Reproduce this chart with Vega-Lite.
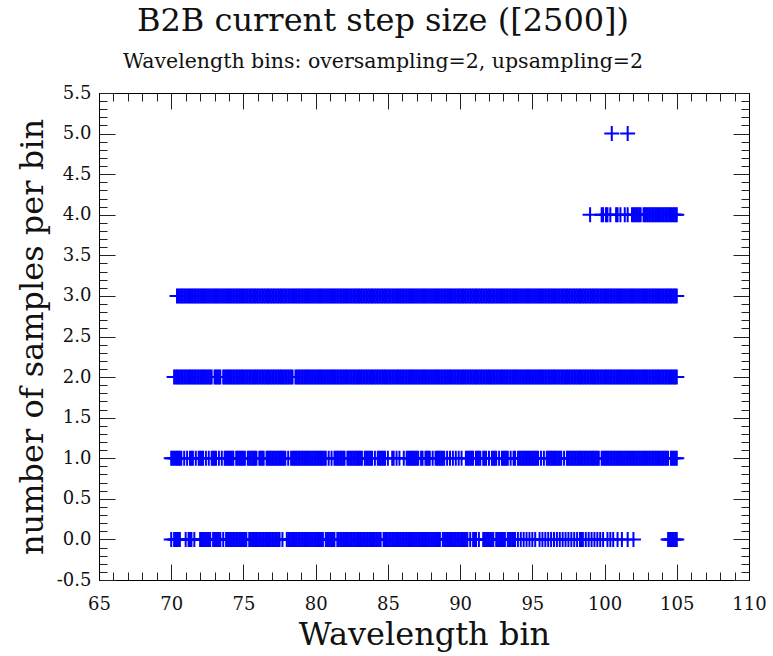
{
"$schema":"https://vega.github.io/schema/vega-lite/v6.json",
"width":650,"height":487,
"autosize":{"type":"none"},
"padding":{"left":99,"top":93,"right":24,"bottom":76},
"background":"white",
"config":{"view":{"stroke":"#000","strokeWidth":1},"font":"DejaVu Serif",
"axis":{"domainColor":"#000","domainWidth":1,"tickColor":"#222","tickWidth":1,"labelColor":"#111","titleColor":"#111","labelFont":"DejaVu Serif","titleFont":"DejaVu Serif","grid":false,"titleFontWeight":"normal"}},
"title":{"text":"B2B current step size ([2500])","subtitle":"Wavelength bins: oversampling=2, upsampling=2","font":"DejaVu Serif","fontSize":32,"fontWeight":"normal","color":"#111","subtitleFont":"DejaVu Serif","subtitleFontSize":20.5,"subtitleColor":"#111","subtitlePadding":14,"anchor":"middle","dx":-41,"offset":11},
"layer":[
{"data":{"values":[
{"bin":70.4,"n":3},{"bin":70.5,"n":3},{"bin":70.6,"n":3},{"bin":70.7,"n":3},{"bin":70.8,"n":3},{"bin":70.9,"n":3},
{"bin":71,"n":3},{"bin":71.1,"n":3},{"bin":71.2,"n":3},{"bin":71.3,"n":3},{"bin":71.4,"n":3},{"bin":71.5,"n":3},{"bin":71.6,"n":3},{"bin":71.7,"n":3},{"bin":71.8,"n":3},{"bin":71.9,"n":3},
{"bin":72,"n":3},{"bin":72.1,"n":3},{"bin":72.2,"n":3},{"bin":72.3,"n":3},{"bin":72.4,"n":3},{"bin":72.5,"n":3},{"bin":72.6,"n":3},{"bin":72.7,"n":3},{"bin":72.8,"n":3},{"bin":72.9,"n":3},
{"bin":73,"n":3},{"bin":73.1,"n":3},{"bin":73.2,"n":3},{"bin":73.3,"n":3},{"bin":73.4,"n":3},{"bin":73.5,"n":3},{"bin":73.6,"n":3},{"bin":73.7,"n":3},{"bin":73.8,"n":3},{"bin":73.9,"n":3},
{"bin":74,"n":3},{"bin":74.1,"n":3},{"bin":74.2,"n":3},{"bin":74.3,"n":3},{"bin":74.4,"n":3},{"bin":74.5,"n":3},{"bin":74.6,"n":3},{"bin":74.7,"n":3},{"bin":74.8,"n":3},{"bin":74.9,"n":3},
{"bin":75,"n":3},{"bin":75.1,"n":3},{"bin":75.2,"n":3},{"bin":75.3,"n":3},{"bin":75.4,"n":3},{"bin":75.5,"n":3},{"bin":75.6,"n":3},{"bin":75.7,"n":3},{"bin":75.8,"n":3},{"bin":75.9,"n":3},
{"bin":76,"n":3},{"bin":76.1,"n":3},{"bin":76.2,"n":3},{"bin":76.3,"n":3},{"bin":76.4,"n":3},{"bin":76.5,"n":3},{"bin":76.6,"n":3},{"bin":76.7,"n":3},{"bin":76.8,"n":3},{"bin":76.9,"n":3},
{"bin":77,"n":3},{"bin":77.1,"n":3},{"bin":77.2,"n":3},{"bin":77.3,"n":3},{"bin":77.4,"n":3},{"bin":77.5,"n":3},{"bin":77.6,"n":3},{"bin":77.7,"n":3},{"bin":77.8,"n":3},{"bin":77.9,"n":3},
{"bin":78,"n":3},{"bin":78.1,"n":3},{"bin":78.2,"n":3},{"bin":78.3,"n":3},{"bin":78.4,"n":3},{"bin":78.5,"n":3},{"bin":78.6,"n":3},{"bin":78.7,"n":3},{"bin":78.8,"n":3},{"bin":78.9,"n":3},
{"bin":79,"n":3},{"bin":79.1,"n":3},{"bin":79.2,"n":3},{"bin":79.3,"n":3},{"bin":79.4,"n":3},{"bin":79.5,"n":3},{"bin":79.6,"n":3},{"bin":79.7,"n":3},{"bin":79.8,"n":3},{"bin":79.9,"n":3},
{"bin":80,"n":3},{"bin":80.1,"n":3},{"bin":80.2,"n":3},{"bin":80.3,"n":3},{"bin":80.4,"n":3},{"bin":80.5,"n":3},{"bin":80.6,"n":3},{"bin":80.7,"n":3},{"bin":80.8,"n":3},{"bin":80.9,"n":3},
{"bin":81,"n":3},{"bin":81.1,"n":3},{"bin":81.2,"n":3},{"bin":81.3,"n":3},{"bin":81.4,"n":3},{"bin":81.5,"n":3},{"bin":81.6,"n":3},{"bin":81.7,"n":3},{"bin":81.8,"n":3},{"bin":81.9,"n":3},
{"bin":82,"n":3},{"bin":82.1,"n":3},{"bin":82.2,"n":3},{"bin":82.3,"n":3},{"bin":82.4,"n":3},{"bin":82.5,"n":3},{"bin":82.6,"n":3},{"bin":82.7,"n":3},{"bin":82.8,"n":3},{"bin":82.9,"n":3},
{"bin":83,"n":3},{"bin":83.1,"n":3},{"bin":83.2,"n":3},{"bin":83.3,"n":3},{"bin":83.4,"n":3},{"bin":83.5,"n":3},{"bin":83.6,"n":3},{"bin":83.7,"n":3},{"bin":83.8,"n":3},{"bin":83.9,"n":3},
{"bin":84,"n":3},{"bin":84.1,"n":3},{"bin":84.2,"n":3},{"bin":84.3,"n":3},{"bin":84.4,"n":3},{"bin":84.5,"n":3},{"bin":84.6,"n":3},{"bin":84.7,"n":3},{"bin":84.8,"n":3},{"bin":84.9,"n":3},
{"bin":85,"n":3},{"bin":85.1,"n":3},{"bin":85.2,"n":3},{"bin":85.3,"n":3},{"bin":85.4,"n":3},{"bin":85.5,"n":3},{"bin":85.6,"n":3},{"bin":85.7,"n":3},{"bin":85.8,"n":3},{"bin":85.9,"n":3},
{"bin":86,"n":3},{"bin":86.1,"n":3},{"bin":86.2,"n":3},{"bin":86.3,"n":3},{"bin":86.4,"n":3},{"bin":86.5,"n":3},{"bin":86.6,"n":3},{"bin":86.7,"n":3},{"bin":86.8,"n":3},{"bin":86.9,"n":3},
{"bin":87,"n":3},{"bin":87.1,"n":3},{"bin":87.2,"n":3},{"bin":87.3,"n":3},{"bin":87.4,"n":3},{"bin":87.5,"n":3},{"bin":87.6,"n":3},{"bin":87.7,"n":3},{"bin":87.8,"n":3},{"bin":87.9,"n":3},
{"bin":88,"n":3},{"bin":88.1,"n":3},{"bin":88.2,"n":3},{"bin":88.3,"n":3},{"bin":88.4,"n":3},{"bin":88.5,"n":3},{"bin":88.6,"n":3},{"bin":88.7,"n":3},{"bin":88.8,"n":3},{"bin":88.9,"n":3},
{"bin":89,"n":3},{"bin":89.1,"n":3},{"bin":89.2,"n":3},{"bin":89.3,"n":3},{"bin":89.4,"n":3},{"bin":89.5,"n":3},{"bin":89.6,"n":3},{"bin":89.7,"n":3},{"bin":89.8,"n":3},{"bin":89.9,"n":3},
{"bin":90,"n":3},{"bin":90.1,"n":3},{"bin":90.2,"n":3},{"bin":90.3,"n":3},{"bin":90.4,"n":3},{"bin":90.5,"n":3},{"bin":90.6,"n":3},{"bin":90.7,"n":3},{"bin":90.8,"n":3},{"bin":90.9,"n":3},
{"bin":91,"n":3},{"bin":91.1,"n":3},{"bin":91.2,"n":3},{"bin":91.3,"n":3},{"bin":91.4,"n":3},{"bin":91.5,"n":3},{"bin":91.6,"n":3},{"bin":91.7,"n":3},{"bin":91.8,"n":3},{"bin":91.9,"n":3},
{"bin":92,"n":3},{"bin":92.1,"n":3},{"bin":92.2,"n":3},{"bin":92.3,"n":3},{"bin":92.4,"n":3},{"bin":92.5,"n":3},{"bin":92.6,"n":3},{"bin":92.7,"n":3},{"bin":92.8,"n":3},{"bin":92.9,"n":3},
{"bin":93,"n":3},{"bin":93.1,"n":3},{"bin":93.2,"n":3},{"bin":93.3,"n":3},{"bin":93.4,"n":3},{"bin":93.5,"n":3},{"bin":93.6,"n":3},{"bin":93.7,"n":3},{"bin":93.8,"n":3},{"bin":93.9,"n":3},
{"bin":94,"n":3},{"bin":94.1,"n":3},{"bin":94.2,"n":3},{"bin":94.3,"n":3},{"bin":94.4,"n":3},{"bin":94.5,"n":3},{"bin":94.6,"n":3},{"bin":94.7,"n":3},{"bin":94.8,"n":3},{"bin":94.9,"n":3},
{"bin":95,"n":3},{"bin":95.1,"n":3},{"bin":95.2,"n":3},{"bin":95.3,"n":3},{"bin":95.4,"n":3},{"bin":95.5,"n":3},{"bin":95.6,"n":3},{"bin":95.7,"n":3},{"bin":95.8,"n":3},{"bin":95.9,"n":3},
{"bin":96,"n":3},{"bin":96.1,"n":3},{"bin":96.2,"n":3},{"bin":96.3,"n":3},{"bin":96.4,"n":3},{"bin":96.5,"n":3},{"bin":96.6,"n":3},{"bin":96.7,"n":3},{"bin":96.8,"n":3},{"bin":96.9,"n":3},
{"bin":97,"n":3},{"bin":97.1,"n":3},{"bin":97.2,"n":3},{"bin":97.3,"n":3},{"bin":97.4,"n":3},{"bin":97.5,"n":3},{"bin":97.6,"n":3},{"bin":97.7,"n":3},{"bin":97.8,"n":3},{"bin":97.9,"n":3},
{"bin":98,"n":3},{"bin":98.1,"n":3},{"bin":98.2,"n":3},{"bin":98.3,"n":3},{"bin":98.4,"n":3},{"bin":98.5,"n":3},{"bin":98.6,"n":3},{"bin":98.7,"n":3},{"bin":98.8,"n":3},{"bin":98.9,"n":3},
{"bin":99,"n":3},{"bin":99.1,"n":3},{"bin":99.2,"n":3},{"bin":99.3,"n":3},{"bin":99.4,"n":3},{"bin":99.5,"n":3},{"bin":99.6,"n":3},{"bin":99.7,"n":3},{"bin":99.8,"n":3},{"bin":99.9,"n":3},
{"bin":100,"n":3},{"bin":100.1,"n":3},{"bin":100.2,"n":3},{"bin":100.3,"n":3},{"bin":100.4,"n":3},{"bin":100.5,"n":3},{"bin":100.6,"n":3},{"bin":100.7,"n":3},{"bin":100.8,"n":3},{"bin":100.9,"n":3},
{"bin":101,"n":3},{"bin":101.1,"n":3},{"bin":101.2,"n":3},{"bin":101.3,"n":3},{"bin":101.4,"n":3},{"bin":101.5,"n":3},{"bin":101.6,"n":3},{"bin":101.7,"n":3},{"bin":101.8,"n":3},{"bin":101.9,"n":3},
{"bin":102,"n":3},{"bin":102.1,"n":3},{"bin":102.2,"n":3},{"bin":102.3,"n":3},{"bin":102.4,"n":3},{"bin":102.5,"n":3},{"bin":102.6,"n":3},{"bin":102.7,"n":3},{"bin":102.8,"n":3},{"bin":102.9,"n":3},
{"bin":103,"n":3},{"bin":103.1,"n":3},{"bin":103.2,"n":3},{"bin":103.3,"n":3},{"bin":103.4,"n":3},{"bin":103.5,"n":3},{"bin":103.6,"n":3},{"bin":103.7,"n":3},{"bin":103.8,"n":3},{"bin":103.9,"n":3},
{"bin":104,"n":3},{"bin":104.1,"n":3},{"bin":104.2,"n":3},{"bin":104.3,"n":3},{"bin":104.4,"n":3},{"bin":104.5,"n":3},{"bin":104.6,"n":3},{"bin":104.7,"n":3},{"bin":104.8,"n":3},{"bin":104.9,"n":3},
{"bin":105,"n":3},
{"bin":70.2,"n":2},{"bin":70.3,"n":2},{"bin":70.4,"n":2},{"bin":70.5,"n":2},{"bin":70.6,"n":2},{"bin":70.7,"n":2},{"bin":70.8,"n":2},{"bin":70.9,"n":2},
{"bin":71,"n":2},{"bin":71.1,"n":2},{"bin":71.2,"n":2},{"bin":71.3,"n":2},{"bin":71.4,"n":2},{"bin":71.5,"n":2},{"bin":71.6,"n":2},{"bin":71.7,"n":2},{"bin":71.8,"n":2},{"bin":71.9,"n":2},
{"bin":72,"n":2},{"bin":72.1,"n":2},{"bin":72.2,"n":2},{"bin":72.3,"n":2},{"bin":72.4,"n":2},{"bin":72.5,"n":2},{"bin":72.6,"n":2},{"bin":72.7,"n":2},{"bin":72.8,"n":2},
{"bin":73,"n":2},{"bin":73.1,"n":2},{"bin":73.2,"n":2},{"bin":73.3,"n":2},{"bin":73.4,"n":2},{"bin":73.6,"n":2},{"bin":73.7,"n":2},{"bin":73.8,"n":2},{"bin":73.9,"n":2},
{"bin":74,"n":2},{"bin":74.1,"n":2},{"bin":74.2,"n":2},{"bin":74.3,"n":2},{"bin":74.4,"n":2},{"bin":74.5,"n":2},{"bin":74.6,"n":2},{"bin":74.7,"n":2},{"bin":74.8,"n":2},{"bin":74.9,"n":2},
{"bin":75,"n":2},{"bin":75.1,"n":2},{"bin":75.2,"n":2},{"bin":75.3,"n":2},{"bin":75.4,"n":2},{"bin":75.5,"n":2},{"bin":75.6,"n":2},{"bin":75.7,"n":2},{"bin":75.8,"n":2},{"bin":75.9,"n":2},
{"bin":76,"n":2},{"bin":76.1,"n":2},{"bin":76.2,"n":2},{"bin":76.3,"n":2},{"bin":76.4,"n":2},{"bin":76.5,"n":2},{"bin":76.6,"n":2},{"bin":76.7,"n":2},{"bin":76.8,"n":2},{"bin":76.9,"n":2},
{"bin":77,"n":2},{"bin":77.1,"n":2},{"bin":77.2,"n":2},{"bin":77.3,"n":2},{"bin":77.4,"n":2},{"bin":77.5,"n":2},{"bin":77.6,"n":2},{"bin":77.7,"n":2},{"bin":77.8,"n":2},{"bin":77.9,"n":2},
{"bin":78,"n":2},{"bin":78.1,"n":2},{"bin":78.2,"n":2},{"bin":78.3,"n":2},{"bin":78.4,"n":2},{"bin":78.6,"n":2},{"bin":78.7,"n":2},{"bin":78.8,"n":2},{"bin":78.9,"n":2},
{"bin":79,"n":2},{"bin":79.1,"n":2},{"bin":79.2,"n":2},{"bin":79.3,"n":2},{"bin":79.4,"n":2},{"bin":79.5,"n":2},{"bin":79.6,"n":2},{"bin":79.7,"n":2},{"bin":79.8,"n":2},{"bin":79.9,"n":2},
{"bin":80,"n":2},{"bin":80.1,"n":2},{"bin":80.2,"n":2},{"bin":80.3,"n":2},{"bin":80.4,"n":2},{"bin":80.5,"n":2},{"bin":80.6,"n":2},{"bin":80.7,"n":2},{"bin":80.8,"n":2},{"bin":80.9,"n":2},
{"bin":81,"n":2},{"bin":81.1,"n":2},{"bin":81.2,"n":2},{"bin":81.3,"n":2},{"bin":81.4,"n":2},{"bin":81.5,"n":2},{"bin":81.6,"n":2},{"bin":81.7,"n":2},{"bin":81.8,"n":2},{"bin":81.9,"n":2},
{"bin":82,"n":2},{"bin":82.1,"n":2},{"bin":82.2,"n":2},{"bin":82.3,"n":2},{"bin":82.4,"n":2},{"bin":82.5,"n":2},{"bin":82.6,"n":2},{"bin":82.7,"n":2},{"bin":82.8,"n":2},{"bin":82.9,"n":2},
{"bin":83,"n":2},{"bin":83.1,"n":2},{"bin":83.2,"n":2},{"bin":83.3,"n":2},{"bin":83.4,"n":2},{"bin":83.5,"n":2},{"bin":83.6,"n":2},{"bin":83.7,"n":2},{"bin":83.8,"n":2},{"bin":83.9,"n":2},
{"bin":84,"n":2},{"bin":84.1,"n":2},{"bin":84.2,"n":2},{"bin":84.3,"n":2},{"bin":84.4,"n":2},{"bin":84.5,"n":2},{"bin":84.6,"n":2},{"bin":84.7,"n":2},{"bin":84.8,"n":2},{"bin":84.9,"n":2},
{"bin":85,"n":2},{"bin":85.1,"n":2},{"bin":85.2,"n":2},{"bin":85.3,"n":2},{"bin":85.4,"n":2},{"bin":85.5,"n":2},{"bin":85.6,"n":2},{"bin":85.7,"n":2},{"bin":85.8,"n":2},{"bin":85.9,"n":2},
{"bin":86,"n":2},{"bin":86.1,"n":2},{"bin":86.2,"n":2},{"bin":86.3,"n":2},{"bin":86.4,"n":2},{"bin":86.5,"n":2},{"bin":86.6,"n":2},{"bin":86.7,"n":2},{"bin":86.8,"n":2},{"bin":86.9,"n":2},
{"bin":87,"n":2},{"bin":87.1,"n":2},{"bin":87.2,"n":2},{"bin":87.3,"n":2},{"bin":87.4,"n":2},{"bin":87.5,"n":2},{"bin":87.6,"n":2},{"bin":87.7,"n":2},{"bin":87.8,"n":2},{"bin":87.9,"n":2},
{"bin":88,"n":2},{"bin":88.1,"n":2},{"bin":88.2,"n":2},{"bin":88.3,"n":2},{"bin":88.4,"n":2},{"bin":88.5,"n":2},{"bin":88.6,"n":2},{"bin":88.7,"n":2},{"bin":88.8,"n":2},{"bin":88.9,"n":2},
{"bin":89,"n":2},{"bin":89.1,"n":2},{"bin":89.2,"n":2},{"bin":89.3,"n":2},{"bin":89.4,"n":2},{"bin":89.5,"n":2},{"bin":89.6,"n":2},{"bin":89.7,"n":2},{"bin":89.8,"n":2},{"bin":89.9,"n":2},
{"bin":90,"n":2},{"bin":90.1,"n":2},{"bin":90.2,"n":2},{"bin":90.3,"n":2},{"bin":90.4,"n":2},{"bin":90.5,"n":2},{"bin":90.6,"n":2},{"bin":90.7,"n":2},{"bin":90.8,"n":2},{"bin":90.9,"n":2},
{"bin":91,"n":2},{"bin":91.1,"n":2},{"bin":91.2,"n":2},{"bin":91.3,"n":2},{"bin":91.4,"n":2},{"bin":91.5,"n":2},{"bin":91.6,"n":2},{"bin":91.7,"n":2},{"bin":91.8,"n":2},{"bin":91.9,"n":2},
{"bin":92,"n":2},{"bin":92.1,"n":2},{"bin":92.2,"n":2},{"bin":92.3,"n":2},{"bin":92.4,"n":2},{"bin":92.5,"n":2},{"bin":92.6,"n":2},{"bin":92.7,"n":2},{"bin":92.8,"n":2},{"bin":92.9,"n":2},
{"bin":93,"n":2},{"bin":93.1,"n":2},{"bin":93.2,"n":2},{"bin":93.3,"n":2},{"bin":93.4,"n":2},{"bin":93.5,"n":2},{"bin":93.6,"n":2},{"bin":93.7,"n":2},{"bin":93.8,"n":2},{"bin":93.9,"n":2},
{"bin":94,"n":2},{"bin":94.1,"n":2},{"bin":94.2,"n":2},{"bin":94.3,"n":2},{"bin":94.4,"n":2},{"bin":94.5,"n":2},{"bin":94.6,"n":2},{"bin":94.7,"n":2},{"bin":94.8,"n":2},{"bin":94.9,"n":2},
{"bin":95,"n":2},{"bin":95.1,"n":2},{"bin":95.2,"n":2},{"bin":95.3,"n":2},{"bin":95.4,"n":2},{"bin":95.5,"n":2},{"bin":95.6,"n":2},{"bin":95.7,"n":2},{"bin":95.8,"n":2},{"bin":95.9,"n":2},
{"bin":96,"n":2},{"bin":96.1,"n":2},{"bin":96.2,"n":2},{"bin":96.3,"n":2},{"bin":96.4,"n":2},{"bin":96.5,"n":2},{"bin":96.6,"n":2},{"bin":96.7,"n":2},{"bin":96.8,"n":2},{"bin":96.9,"n":2},
{"bin":97,"n":2},{"bin":97.1,"n":2},{"bin":97.2,"n":2},{"bin":97.3,"n":2},{"bin":97.4,"n":2},{"bin":97.5,"n":2},{"bin":97.6,"n":2},{"bin":97.7,"n":2},{"bin":97.8,"n":2},{"bin":97.9,"n":2},
{"bin":98,"n":2},{"bin":98.1,"n":2},{"bin":98.2,"n":2},{"bin":98.3,"n":2},{"bin":98.4,"n":2},{"bin":98.5,"n":2},{"bin":98.6,"n":2},{"bin":98.7,"n":2},{"bin":98.8,"n":2},{"bin":98.9,"n":2},
{"bin":99,"n":2},{"bin":99.1,"n":2},{"bin":99.2,"n":2},{"bin":99.3,"n":2},{"bin":99.4,"n":2},{"bin":99.5,"n":2},{"bin":99.6,"n":2},{"bin":99.7,"n":2},{"bin":99.8,"n":2},{"bin":99.9,"n":2},
{"bin":100,"n":2},{"bin":100.1,"n":2},{"bin":100.2,"n":2},{"bin":100.3,"n":2},{"bin":100.4,"n":2},{"bin":100.5,"n":2},{"bin":100.6,"n":2},{"bin":100.7,"n":2},{"bin":100.8,"n":2},{"bin":100.9,"n":2},
{"bin":101,"n":2},{"bin":101.1,"n":2},{"bin":101.2,"n":2},{"bin":101.3,"n":2},{"bin":101.4,"n":2},{"bin":101.5,"n":2},{"bin":101.6,"n":2},{"bin":101.7,"n":2},{"bin":101.8,"n":2},{"bin":101.9,"n":2},
{"bin":102,"n":2},{"bin":102.1,"n":2},{"bin":102.2,"n":2},{"bin":102.3,"n":2},{"bin":102.4,"n":2},{"bin":102.5,"n":2},{"bin":102.6,"n":2},{"bin":102.7,"n":2},{"bin":102.8,"n":2},{"bin":102.9,"n":2},
{"bin":103,"n":2},{"bin":103.1,"n":2},{"bin":103.2,"n":2},{"bin":103.3,"n":2},{"bin":103.4,"n":2},{"bin":103.5,"n":2},{"bin":103.6,"n":2},{"bin":103.7,"n":2},{"bin":103.8,"n":2},{"bin":103.9,"n":2},
{"bin":104,"n":2},{"bin":104.1,"n":2},{"bin":104.2,"n":2},{"bin":104.3,"n":2},{"bin":104.4,"n":2},{"bin":104.5,"n":2},{"bin":104.6,"n":2},{"bin":104.7,"n":2},{"bin":104.8,"n":2},{"bin":104.9,"n":2},
{"bin":105,"n":2},
{"bin":70,"n":1},{"bin":70.1,"n":1},{"bin":70.2,"n":1},{"bin":70.3,"n":1},{"bin":70.4,"n":1},{"bin":70.5,"n":1},{"bin":70.6,"n":1},{"bin":70.7,"n":1},{"bin":70.9,"n":1},
{"bin":71.1,"n":1},{"bin":71.3,"n":1},{"bin":71.4,"n":1},{"bin":71.5,"n":1},{"bin":71.7,"n":1},{"bin":71.9,"n":1},
{"bin":72,"n":1},{"bin":72.1,"n":1},{"bin":72.2,"n":1},{"bin":72.4,"n":1},{"bin":72.6,"n":1},{"bin":72.8,"n":1},{"bin":72.9,"n":1},
{"bin":73,"n":1},{"bin":73.1,"n":1},{"bin":73.3,"n":1},{"bin":73.5,"n":1},{"bin":73.7,"n":1},{"bin":73.8,"n":1},{"bin":73.9,"n":1},
{"bin":74,"n":1},{"bin":74.1,"n":1},{"bin":74.2,"n":1},{"bin":74.3,"n":1},{"bin":74.5,"n":1},{"bin":74.6,"n":1},{"bin":74.7,"n":1},{"bin":74.8,"n":1},{"bin":74.9,"n":1},
{"bin":75,"n":1},{"bin":75.1,"n":1},{"bin":75.3,"n":1},{"bin":75.4,"n":1},{"bin":75.5,"n":1},{"bin":75.6,"n":1},{"bin":75.7,"n":1},{"bin":75.8,"n":1},{"bin":75.9,"n":1},
{"bin":76.1,"n":1},{"bin":76.2,"n":1},{"bin":76.3,"n":1},{"bin":76.4,"n":1},{"bin":76.6,"n":1},{"bin":76.7,"n":1},{"bin":76.8,"n":1},{"bin":76.9,"n":1},
{"bin":77,"n":1},{"bin":77.1,"n":1},{"bin":77.2,"n":1},{"bin":77.3,"n":1},{"bin":77.4,"n":1},{"bin":77.5,"n":1},{"bin":77.6,"n":1},{"bin":77.7,"n":1},{"bin":77.8,"n":1},{"bin":77.9,"n":1},
{"bin":78.1,"n":1},{"bin":78.3,"n":1},{"bin":78.4,"n":1},{"bin":78.5,"n":1},{"bin":78.6,"n":1},{"bin":78.7,"n":1},{"bin":78.8,"n":1},{"bin":78.9,"n":1},
{"bin":79,"n":1},{"bin":79.1,"n":1},{"bin":79.2,"n":1},{"bin":79.3,"n":1},{"bin":79.4,"n":1},{"bin":79.5,"n":1},{"bin":79.6,"n":1},{"bin":79.7,"n":1},{"bin":79.8,"n":1},{"bin":79.9,"n":1},
{"bin":80,"n":1},{"bin":80.1,"n":1},{"bin":80.2,"n":1},{"bin":80.3,"n":1},{"bin":80.4,"n":1},{"bin":80.5,"n":1},{"bin":80.6,"n":1},{"bin":80.7,"n":1},{"bin":80.9,"n":1},
{"bin":81.1,"n":1},{"bin":81.3,"n":1},{"bin":81.4,"n":1},{"bin":81.5,"n":1},{"bin":81.6,"n":1},{"bin":81.7,"n":1},{"bin":81.8,"n":1},{"bin":81.9,"n":1},{"bin":82,"n":1},
{"bin":82.2,"n":1},{"bin":82.3,"n":1},{"bin":82.4,"n":1},{"bin":82.5,"n":1},{"bin":82.6,"n":1},{"bin":82.7,"n":1},{"bin":82.8,"n":1},{"bin":82.9,"n":1},
{"bin":83,"n":1},{"bin":83.1,"n":1},{"bin":83.2,"n":1},{"bin":83.4,"n":1},{"bin":83.5,"n":1},{"bin":83.6,"n":1},{"bin":83.7,"n":1},{"bin":83.8,"n":1},{"bin":83.9,"n":1},
{"bin":84.1,"n":1},{"bin":84.3,"n":1},{"bin":84.4,"n":1},{"bin":84.5,"n":1},{"bin":84.6,"n":1},{"bin":84.7,"n":1},{"bin":84.8,"n":1},
{"bin":85,"n":1},{"bin":85.3,"n":1},{"bin":85.4,"n":1},{"bin":85.6,"n":1},{"bin":85.8,"n":1},
{"bin":86.1,"n":1},{"bin":86.3,"n":1},{"bin":86.4,"n":1},{"bin":86.5,"n":1},{"bin":86.6,"n":1},{"bin":86.7,"n":1},{"bin":86.8,"n":1},{"bin":86.9,"n":1},{"bin":87,"n":1},{"bin":87.1,"n":1},
{"bin":87.3,"n":1},{"bin":87.4,"n":1},{"bin":87.6,"n":1},{"bin":87.7,"n":1},{"bin":87.8,"n":1},{"bin":87.9,"n":1},
{"bin":88.1,"n":1},{"bin":88.3,"n":1},{"bin":88.4,"n":1},{"bin":88.5,"n":1},{"bin":88.6,"n":1},{"bin":88.7,"n":1},{"bin":88.8,"n":1},{"bin":88.9,"n":1},
{"bin":89.1,"n":1},{"bin":89.3,"n":1},{"bin":89.5,"n":1},{"bin":89.7,"n":1},{"bin":89.9,"n":1},{"bin":90.1,"n":1},
{"bin":90.4,"n":1},{"bin":90.5,"n":1},{"bin":90.6,"n":1},{"bin":90.7,"n":1},{"bin":90.8,"n":1},{"bin":90.9,"n":1},
{"bin":91.1,"n":1},{"bin":91.2,"n":1},{"bin":91.3,"n":1},{"bin":91.4,"n":1},{"bin":91.6,"n":1},{"bin":91.7,"n":1},{"bin":91.8,"n":1},
{"bin":92,"n":1},{"bin":92.2,"n":1},{"bin":92.3,"n":1},{"bin":92.4,"n":1},{"bin":92.5,"n":1},{"bin":92.7,"n":1},
{"bin":92.9,"n":1},{"bin":93,"n":1},{"bin":93.1,"n":1},{"bin":93.2,"n":1},{"bin":93.3,"n":1},{"bin":93.5,"n":1},{"bin":93.7,"n":1},{"bin":93.8,"n":1},
{"bin":94,"n":1},{"bin":94.1,"n":1},{"bin":94.2,"n":1},{"bin":94.3,"n":1},{"bin":94.4,"n":1},{"bin":94.5,"n":1},{"bin":94.6,"n":1},{"bin":94.7,"n":1},{"bin":94.8,"n":1},{"bin":94.9,"n":1},
{"bin":95,"n":1},{"bin":95.1,"n":1},{"bin":95.2,"n":1},{"bin":95.3,"n":1},{"bin":95.4,"n":1},{"bin":95.6,"n":1},{"bin":95.8,"n":1},
{"bin":96,"n":1},{"bin":96.1,"n":1},{"bin":96.2,"n":1},{"bin":96.3,"n":1},{"bin":96.4,"n":1},{"bin":96.5,"n":1},{"bin":96.6,"n":1},{"bin":96.7,"n":1},{"bin":96.8,"n":1},{"bin":96.9,"n":1},{"bin":97,"n":1},
{"bin":97.2,"n":1},{"bin":97.4,"n":1},{"bin":97.5,"n":1},{"bin":97.6,"n":1},{"bin":97.7,"n":1},{"bin":97.8,"n":1},{"bin":97.9,"n":1},
{"bin":98,"n":1},{"bin":98.1,"n":1},{"bin":98.2,"n":1},{"bin":98.3,"n":1},{"bin":98.4,"n":1},{"bin":98.5,"n":1},{"bin":98.6,"n":1},{"bin":98.7,"n":1},{"bin":98.8,"n":1},{"bin":98.9,"n":1},
{"bin":99,"n":1},{"bin":99.1,"n":1},{"bin":99.2,"n":1},{"bin":99.3,"n":1},{"bin":99.4,"n":1},{"bin":99.5,"n":1},{"bin":99.6,"n":1},{"bin":99.8,"n":1},{"bin":99.9,"n":1},
{"bin":100,"n":1},{"bin":100.1,"n":1},{"bin":100.2,"n":1},{"bin":100.3,"n":1},{"bin":100.4,"n":1},{"bin":100.5,"n":1},{"bin":100.6,"n":1},{"bin":100.7,"n":1},{"bin":100.8,"n":1},{"bin":100.9,"n":1},
{"bin":101,"n":1},{"bin":101.1,"n":1},{"bin":101.2,"n":1},{"bin":101.3,"n":1},{"bin":101.4,"n":1},{"bin":101.5,"n":1},{"bin":101.6,"n":1},{"bin":101.7,"n":1},{"bin":101.8,"n":1},{"bin":101.9,"n":1},
{"bin":102,"n":1},{"bin":102.1,"n":1},{"bin":102.2,"n":1},{"bin":102.3,"n":1},{"bin":102.4,"n":1},{"bin":102.5,"n":1},{"bin":102.6,"n":1},{"bin":102.7,"n":1},{"bin":102.8,"n":1},{"bin":102.9,"n":1},
{"bin":103,"n":1},{"bin":103.1,"n":1},{"bin":103.2,"n":1},{"bin":103.3,"n":1},{"bin":103.4,"n":1},{"bin":103.5,"n":1},{"bin":103.6,"n":1},{"bin":103.7,"n":1},{"bin":103.8,"n":1},{"bin":103.9,"n":1},
{"bin":104,"n":1},{"bin":104.1,"n":1},{"bin":104.2,"n":1},{"bin":104.3,"n":1},{"bin":104.4,"n":1},{"bin":104.6,"n":1},{"bin":104.7,"n":1},{"bin":104.8,"n":1},{"bin":104.9,"n":1},{"bin":105,"n":1},
{"bin":70,"n":0},{"bin":70.2,"n":0},{"bin":70.3,"n":0},{"bin":70.4,"n":0},{"bin":70.5,"n":0},{"bin":70.6,"n":0},
{"bin":71,"n":0},{"bin":71.2,"n":0},{"bin":71.3,"n":0},{"bin":71.4,"n":0},{"bin":71.6,"n":0},
{"bin":72,"n":0},{"bin":72.1,"n":0},{"bin":72.2,"n":0},{"bin":72.3,"n":0},{"bin":72.4,"n":0},{"bin":72.5,"n":0},{"bin":72.6,"n":0},{"bin":72.7,"n":0},
{"bin":72.9,"n":0},{"bin":73,"n":0},{"bin":73.1,"n":0},{"bin":73.2,"n":0},{"bin":73.3,"n":0},{"bin":73.4,"n":0},{"bin":73.6,"n":0},
{"bin":73.8,"n":0},{"bin":73.9,"n":0},{"bin":74,"n":0},{"bin":74.1,"n":0},{"bin":74.2,"n":0},{"bin":74.3,"n":0},{"bin":74.4,"n":0},{"bin":74.5,"n":0},{"bin":74.6,"n":0},{"bin":74.7,"n":0},{"bin":74.8,"n":0},{"bin":74.9,"n":0},{"bin":75,"n":0},{"bin":75.1,"n":0},{"bin":75.2,"n":0},
{"bin":75.4,"n":0},{"bin":75.5,"n":0},{"bin":75.6,"n":0},{"bin":75.7,"n":0},{"bin":75.8,"n":0},{"bin":75.9,"n":0},
{"bin":76,"n":0},{"bin":76.1,"n":0},{"bin":76.2,"n":0},{"bin":76.3,"n":0},{"bin":76.4,"n":0},{"bin":76.5,"n":0},{"bin":76.6,"n":0},{"bin":76.7,"n":0},{"bin":76.8,"n":0},{"bin":76.9,"n":0},
{"bin":77,"n":0},{"bin":77.1,"n":0},{"bin":77.2,"n":0},{"bin":77.3,"n":0},{"bin":77.4,"n":0},{"bin":77.5,"n":0},{"bin":77.7,"n":0},
{"bin":78,"n":0},{"bin":78.1,"n":0},{"bin":78.2,"n":0},{"bin":78.3,"n":0},{"bin":78.4,"n":0},{"bin":78.5,"n":0},{"bin":78.6,"n":0},{"bin":78.7,"n":0},{"bin":78.8,"n":0},{"bin":78.9,"n":0},
{"bin":79,"n":0},{"bin":79.1,"n":0},{"bin":79.2,"n":0},{"bin":79.3,"n":0},{"bin":79.4,"n":0},{"bin":79.5,"n":0},{"bin":79.6,"n":0},{"bin":79.7,"n":0},{"bin":79.8,"n":0},{"bin":79.9,"n":0},
{"bin":80,"n":0},{"bin":80.1,"n":0},{"bin":80.2,"n":0},{"bin":80.3,"n":0},{"bin":80.4,"n":0},{"bin":80.5,"n":0},
{"bin":80.7,"n":0},{"bin":80.8,"n":0},{"bin":80.9,"n":0},{"bin":81,"n":0},{"bin":81.1,"n":0},{"bin":81.2,"n":0},{"bin":81.3,"n":0},
{"bin":81.5,"n":0},{"bin":81.6,"n":0},{"bin":81.7,"n":0},{"bin":81.8,"n":0},{"bin":81.9,"n":0},
{"bin":82,"n":0},{"bin":82.1,"n":0},{"bin":82.2,"n":0},{"bin":82.3,"n":0},{"bin":82.4,"n":0},{"bin":82.5,"n":0},{"bin":82.6,"n":0},{"bin":82.7,"n":0},{"bin":82.8,"n":0},{"bin":82.9,"n":0},
{"bin":83,"n":0},{"bin":83.1,"n":0},{"bin":83.2,"n":0},{"bin":83.3,"n":0},{"bin":83.4,"n":0},{"bin":83.5,"n":0},{"bin":83.6,"n":0},{"bin":83.7,"n":0},{"bin":83.8,"n":0},{"bin":83.9,"n":0},
{"bin":84,"n":0},{"bin":84.1,"n":0},{"bin":84.2,"n":0},{"bin":84.3,"n":0},{"bin":84.4,"n":0},{"bin":84.5,"n":0},
{"bin":84.7,"n":0},{"bin":84.8,"n":0},{"bin":84.9,"n":0},
{"bin":85,"n":0},{"bin":85.1,"n":0},{"bin":85.2,"n":0},{"bin":85.3,"n":0},{"bin":85.4,"n":0},{"bin":85.5,"n":0},{"bin":85.6,"n":0},{"bin":85.7,"n":0},{"bin":85.8,"n":0},{"bin":85.9,"n":0},
{"bin":86,"n":0},{"bin":86.1,"n":0},{"bin":86.2,"n":0},{"bin":86.3,"n":0},{"bin":86.4,"n":0},{"bin":86.5,"n":0},{"bin":86.6,"n":0},{"bin":86.7,"n":0},{"bin":86.8,"n":0},{"bin":86.9,"n":0},
{"bin":87,"n":0},{"bin":87.1,"n":0},{"bin":87.2,"n":0},{"bin":87.3,"n":0},{"bin":87.4,"n":0},{"bin":87.5,"n":0},{"bin":87.6,"n":0},{"bin":87.7,"n":0},{"bin":87.8,"n":0},{"bin":87.9,"n":0},
{"bin":88,"n":0},{"bin":88.1,"n":0},{"bin":88.2,"n":0},{"bin":88.3,"n":0},{"bin":88.4,"n":0},{"bin":88.5,"n":0},{"bin":88.6,"n":0},
{"bin":88.8,"n":0},{"bin":88.9,"n":0},
{"bin":89,"n":0},{"bin":89.1,"n":0},{"bin":89.2,"n":0},{"bin":89.3,"n":0},{"bin":89.4,"n":0},{"bin":89.5,"n":0},{"bin":89.6,"n":0},{"bin":89.7,"n":0},{"bin":89.8,"n":0},{"bin":89.9,"n":0},
{"bin":90,"n":0},{"bin":90.1,"n":0},{"bin":90.2,"n":0},{"bin":90.3,"n":0},{"bin":90.4,"n":0},{"bin":90.5,"n":0},
{"bin":90.7,"n":0},{"bin":90.9,"n":0},{"bin":91,"n":0},{"bin":91.1,"n":0},{"bin":91.3,"n":0},
{"bin":91.6,"n":0},{"bin":91.7,"n":0},{"bin":91.8,"n":0},{"bin":91.9,"n":0},{"bin":92,"n":0},{"bin":92.1,"n":0},{"bin":92.2,"n":0},{"bin":92.3,"n":0},
{"bin":92.5,"n":0},{"bin":92.6,"n":0},{"bin":92.7,"n":0},{"bin":92.8,"n":0},{"bin":92.9,"n":0},{"bin":93,"n":0},{"bin":93.1,"n":0},
{"bin":93.3,"n":0},{"bin":93.4,"n":0},{"bin":93.5,"n":0},{"bin":93.6,"n":0},{"bin":93.7,"n":0},{"bin":93.8,"n":0},
{"bin":94,"n":0},{"bin":94.2,"n":0},{"bin":94.4,"n":0},{"bin":94.6,"n":0},{"bin":94.8,"n":0},{"bin":95,"n":0},{"bin":95.2,"n":0},{"bin":95.5,"n":0},{"bin":95.7,"n":0},{"bin":95.9,"n":0},
{"bin":96.1,"n":0},{"bin":96.3,"n":0},{"bin":96.5,"n":0},{"bin":96.7,"n":0},{"bin":96.9,"n":0},{"bin":97.1,"n":0},{"bin":97.3,"n":0},{"bin":97.5,"n":0},{"bin":97.7,"n":0},{"bin":97.9,"n":0},
{"bin":98.1,"n":0},{"bin":98.3,"n":0},{"bin":98.4,"n":0},{"bin":98.5,"n":0},{"bin":98.7,"n":0},{"bin":98.9,"n":0},{"bin":99.1,"n":0},{"bin":99.3,"n":0},{"bin":99.5,"n":0},{"bin":99.7,"n":0},{"bin":99.9,"n":0},
{"bin":100.2,"n":0},{"bin":100.4,"n":0},{"bin":100.6,"n":0},{"bin":100.9,"n":0},{"bin":101.2,"n":0},{"bin":101.6,"n":0},{"bin":102,"n":0},
{"bin":104.4,"n":0},{"bin":104.5,"n":0},{"bin":104.6,"n":0},{"bin":104.7,"n":0},{"bin":104.8,"n":0},{"bin":104.9,"n":0},{"bin":105,"n":0},
{"bin":99,"n":4},{"bin":99.8,"n":4},{"bin":99.9,"n":4},{"bin":100.1,"n":4},{"bin":100.2,"n":4},{"bin":100.4,"n":4},{"bin":100.8,"n":4},{"bin":100.9,"n":4},{"bin":101.1,"n":4},{"bin":101.4,"n":4},{"bin":101.6,"n":4},
{"bin":101.9,"n":4},{"bin":102,"n":4},{"bin":102.1,"n":4},{"bin":102.2,"n":4},{"bin":102.3,"n":4},{"bin":102.4,"n":4},{"bin":102.5,"n":4},
{"bin":102.7,"n":4},{"bin":102.8,"n":4},{"bin":102.9,"n":4},{"bin":103,"n":4},{"bin":103.1,"n":4},{"bin":103.2,"n":4},{"bin":103.3,"n":4},{"bin":103.4,"n":4},{"bin":103.5,"n":4},{"bin":103.6,"n":4},{"bin":103.7,"n":4},{"bin":103.8,"n":4},{"bin":103.9,"n":4},
{"bin":104,"n":4},{"bin":104.1,"n":4},{"bin":104.2,"n":4},{"bin":104.3,"n":4},{"bin":104.4,"n":4},{"bin":104.5,"n":4},{"bin":104.6,"n":4},{"bin":104.7,"n":4},{"bin":104.8,"n":4},{"bin":104.9,"n":4},{"bin":105,"n":4},
{"bin":100.5,"n":5},{"bin":101.6,"n":5}
]},
"mark":{"type":"point","shape":"M-1,0L1,0M0,-1L0,1","filled":false,"stroke":"#0000ff","strokeWidth":2,"size":225,"opacity":1},
"encoding":{
"x":{"field":"bin","type":"quantitative","scale":{"domain":[65,110],"nice":false,"zero":false},
"axis":{"orient":"bottom","values":[65,70,75,80,85,90,95,100,105,110],"tickSize":-16,"labelFontSize":18,"labelPadding":31,"format":"d","title":"Wavelength bin","titleFontSize":32,"titlePadding":6,"labelFlush":false}},
"y":{"field":"n","type":"quantitative","scale":{"domain":[-0.5,5.5],"nice":false,"zero":false},
"axis":{"orient":"left","values":[-0.5,0,0.5,1,1.5,2,2.5,3,3.5,4,4.5,5,5.5],"tickSize":-16,"labelFontSize":18,"labelPadding":24,"format":".1f","labelExpr":"replace(datum.label,'\u2212','-')","title":"number of samples per bin","titleFontSize":32,"titlePadding":7,"labelFlush":false}}
}},
{"data":{"values":[{"bin":65,"n":0}]},
"mark":{"type":"point","opacity":0},
"encoding":{
"x":{"field":"bin","type":"quantitative","scale":{"domain":[65,110],"nice":false,"zero":false},
"axis":{"orient":"top","values":[65,70,75,80,85,90,95,100,105,110],"tickSize":-16,"labels":false,"title":null}},
"y":{"field":"n","type":"quantitative","scale":{"domain":[-0.5,5.5],"nice":false,"zero":false},
"axis":{"orient":"right","values":[-0.5,0,0.5,1,1.5,2,2.5,3,3.5,4,4.5,5,5.5],"tickSize":-16,"labels":false,"title":null}}
}},
{"data":{"values":[{"bin":65,"n":0}]},
"mark":{"type":"point","opacity":0},
"encoding":{
"x":{"field":"bin","type":"quantitative","scale":{"domain":[65,110],"nice":false,"zero":false},
"axis":{"orient":"bottom","values":[66,67,68,69,71,72,73,74,76,77,78,79,81,82,83,84,86,87,88,89,91,92,93,94,96,97,98,99,101,102,103,104,106,107,108,109],"tickSize":-8,"labels":false,"title":null,"domain":false}},
"y":{"field":"n","type":"quantitative","scale":{"domain":[-0.5,5.5],"nice":false,"zero":false},
"axis":{"orient":"left","values":[-0.4,-0.3,-0.2,-0.1,0.1,0.2,0.3,0.4,0.6,0.7,0.8,0.9,1.1,1.2,1.3,1.4,1.6,1.7,1.8,1.9,2.1,2.2,2.3,2.4,2.6,2.7,2.8,2.9,3.1,3.2,3.3,3.4,3.6,3.7,3.8,3.9,4.1,4.2,4.3,4.4,4.6,4.7,4.8,4.9,5.1,5.2,5.3,5.4],"tickSize":-8,"labels":false,"title":null,"domain":false}}
}},
{"data":{"values":[{"bin":65,"n":0}]},
"mark":{"type":"point","opacity":0},
"encoding":{
"x":{"field":"bin","type":"quantitative","scale":{"domain":[65,110],"nice":false,"zero":false},
"axis":{"orient":"top","values":[66,67,68,69,71,72,73,74,76,77,78,79,81,82,83,84,86,87,88,89,91,92,93,94,96,97,98,99,101,102,103,104,106,107,108,109],"tickSize":-8,"labels":false,"title":null,"domain":false}},
"y":{"field":"n","type":"quantitative","scale":{"domain":[-0.5,5.5],"nice":false,"zero":false},
"axis":{"orient":"right","values":[-0.4,-0.3,-0.2,-0.1,0.1,0.2,0.3,0.4,0.6,0.7,0.8,0.9,1.1,1.2,1.3,1.4,1.6,1.7,1.8,1.9,2.1,2.2,2.3,2.4,2.6,2.7,2.8,2.9,3.1,3.2,3.3,3.4,3.6,3.7,3.8,3.9,4.1,4.2,4.3,4.4,4.6,4.7,4.8,4.9,5.1,5.2,5.3,5.4],"tickSize":-8,"labels":false,"title":null,"domain":false}}
}}
],
"resolve":{"axis":{"x":"independent","y":"independent"}}
}
